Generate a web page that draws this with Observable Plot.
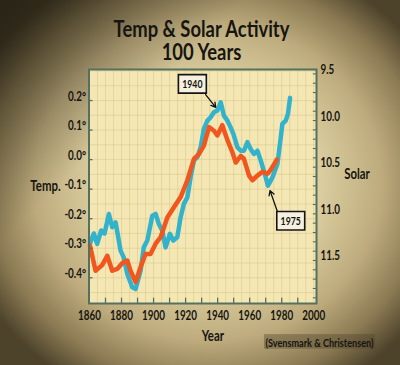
<!DOCTYPE html>
<html><head><meta charset="utf-8">
<script src="https://cdn.jsdelivr.net/npm/d3@7"></script>
<script src="https://cdn.jsdelivr.net/npm/@observablehq/plot@0.6"></script>
<style>
html,body{margin:0;padding:0}
body{width:400px;height:365px;overflow:hidden;
background:
 linear-gradient(135deg, rgba(20,18,10,0.65) 0%, rgba(20,18,10,0) 32%),
 radial-gradient(ellipse 64% 64% at 52% 50%, #efe6c2 0%, #ddd0a2 42%, #bdab7d 68%, #8a7952 86%, #4d432b 100%);
font-family:Lato,"Open Sans",sans-serif;color:#161510}
#title{position:relative;height:62px;font-weight:bold;font-size:23px}
#title div{position:absolute;left:3px;right:0;top:17px;line-height:22.7px;text-align:center;transform:scaleX(0.8);transform-origin:50% 50%}
#chart{position:relative}
</style></head><body>
<div id="title"><div>Temp &amp; Solar Activity<br>100 Years</div></div>
<div id="chart"></div>
<script>
// Temperature anomaly (blue, left axis, °C)
const tempYears = [1860.6,1862.7,1864.8,1867.3,1869.4,1872.1,1874.2,1876.3,1879.4,1881.4,1883.6,1886.7,1888.8,1891.9,1893.9,1896.1,1899.2,1901.3,1903.3,1905.4,1907.5,1910.2,1912.3,1914.8,1916.9,1918.9,1921.1,1923.1,1925.2,1927.3,1929.4,1931.4,1933.6,1935.6,1937.7,1939.8,1941.9,1943.9,1946.1,1948.1,1949.8,1952.3,1954.4,1956.4,1958.6,1960.6,1962.7,1964.8,1966.9,1970.0,1971.4,1974.2,1977.3,1979.4,1980.4,1982.5,1983.9,1985.2];
const tempValues = [-0.28,-0.25,-0.285,-0.24,-0.25,-0.184,-0.229,-0.212,-0.308,-0.331,-0.387,-0.432,-0.438,-0.376,-0.297,-0.274,-0.19,-0.184,-0.218,-0.24,-0.297,-0.251,-0.274,-0.263,-0.195,-0.15,-0.128,-0.06,-0.003,0.008,0.042,0.104,0.132,0.143,0.16,0.166,0.194,0.149,0.132,0.109,0.087,0.042,0.03,0.03,0.059,0.036,0.019,0.03,-0.003,-0.06,-0.088,-0.06,-0.015,0.075,0.121,0.132,0.155,0.209];
// Solar cycle length (red, right axis, years; inverted)
const solarYears = [1860.3,1863.8,1867.9,1871.1,1874.2,1877.3,1880.4,1883.6,1885.6,1888.8,1891.9,1895.0,1898.1,1901.3,1904.4,1908.6,1912.7,1916.9,1921.1,1925.2,1928.3,1931.4,1934.6,1937.7,1939.8,1942.9,1946.1,1949.2,1951.3,1954.4,1956.4,1959.6,1961.7,1964.8,1967.9,1971.1,1973.1,1976.9];
const solarValues = [11.34,11.61,11.55,11.45,11.61,11.59,11.53,11.50,11.61,11.73,11.57,11.43,11.43,11.32,11.25,11.04,10.93,10.82,10.64,10.41,10.36,10.27,10.07,10.11,10.16,10.05,10.21,10.34,10.45,10.38,10.41,10.59,10.64,10.59,10.55,10.57,10.53,10.42];
// Tick labels
const yearTicks = [1860,1880,1900,1920,1940,1960,1980,2000];
const tempTicks = [0.2,0.1,0.0,-0.1,-0.2,-0.3,-0.4];
const solarTicks = [9.5,10.0,10.5,11.0,11.5];
// Annotations
const annotLabels = ["1940","1975"];
const annotYears = [1924.2,1985.6];
const annotTemps = [0.241,-0.222];
const arrowFromYears = [1932.5,1977.5];
const arrowFromTemps = [0.220,-0.179];
const arrowToYears = [1938.8,1972.7];
const arrowToTemps = [0.177,-0.105];
const texts = {yLeft:"Temp.", yRight:"Solar", x:"Year", source:"(Svensmark & Christensen)"};

const xDomain = [1859.7, 2001.7];
const tempDomain = [-0.487, 0.305];
const solarDomain = [11.961, 9.453];
const toTemp = d3.scaleLinear().domain(solarDomain).range(tempDomain);

const tempData = tempYears.map((y,i)=>({year:y, value:tempValues[i]}));
const solarData = solarYears.map((y,i)=>({year:y, value:solarValues[i]}));
const annots = annotLabels.map((l,i)=>({label:l, year:annotYears[i], temp:annotTemps[i],
  x1:arrowFromYears[i], y1:arrowFromTemps[i], x2:arrowToYears[i], y2:arrowToTemps[i]}));

const frameColor = "#56705f";
const gridYears = d3.range(1865, 2001, 5);
const gridTemps = d3.range(-0.45, 0.31, 0.05);
const minorYears = d3.range(1870, 2000, 10);
const solarMinor = d3.range(9.5, 11.96, 0.1);
const fmtT = d => (d < 0 ? "-" : "") + Math.abs(d).toFixed(1) + "°";
const squeeze = 0.76;

const plot = Plot.plot({
  width: 400, height: 303,
  marginLeft: 88.5, marginRight: 84, marginTop: 7, marginBottom: 62,
  x: {domain: xDomain, axis: null},
  y: {domain: tempDomain, axis: null},
  style: {background: "transparent", fontFamily: 'Lato,"Open Sans",sans-serif', color: "#161510", overflow: "visible"},
  marks: [
    Plot.frame({fill: "#f4e7b4"}),
    Plot.ruleX(gridYears, {stroke: "#d8c68a", strokeOpacity: 0.5, strokeWidth: 1}),
    Plot.ruleY(gridTemps, {stroke: "#d8c68a", strokeOpacity: 0.5, strokeWidth: 1}),
    Plot.line(tempData, {x: "year", y: "value", stroke: "#33b2cc", strokeWidth: 4.5, strokeLinejoin: "round"}),
    Plot.line(solarData, {x: "year", y: d => toTemp(d.value), stroke: "#f0561e", strokeWidth: 4.5, strokeLinejoin: "round"}),
    Plot.frame({stroke: frameColor, strokeWidth: 2}),
    Plot.ruleX(minorYears, {y1: tempDomain[0], y2: tempDomain[0] + 0.018, stroke: frameColor, strokeWidth: 1.3}),
    Plot.ruleY(tempTicks, {x1: xDomain[0], x2: xDomain[0] + 2.5, stroke: frameColor, strokeWidth: 1.3}),
    Plot.ruleY(solarMinor.map(toTemp), {x1: xDomain[1] - 2, x2: xDomain[1], stroke: frameColor, strokeWidth: 1.1}),
    Plot.text(yearTicks, {x: d => d, frameAnchor: "bottom", dy: 16, text: d => String(d), fontSize: 13, fontWeight: "bold"}),
    Plot.text(tempTicks, {y: d => d, frameAnchor: "left", textAnchor: "end", dx: -3, text: fmtT, fontSize: 13, fontWeight: "bold"}),
    Plot.text(solarTicks, {y: d => toTemp(d), frameAnchor: "right", textAnchor: "start", dx: 4, text: d => d.toFixed(1), fontSize: 13, fontWeight: "bold"}),
    Plot.text([texts.yLeft], {frameAnchor: "left", textAnchor: "middle", y: -0.107, dx: -43.5, text: d => d, fontSize: 15, fontWeight: "bold"}),
    Plot.text([texts.yRight], {frameAnchor: "right", textAnchor: "middle", y: -0.066, dx: 40.5, text: d => d, fontSize: 15, fontWeight: "bold"}),
    Plot.text([texts.x], {frameAnchor: "bottom", textAnchor: "middle", x: 1937, dy: 37, text: d => d, fontSize: 15, fontWeight: "bold"}),
    Plot.text([texts.source], {frameAnchor: "bottom-right", textAnchor: "middle", dx: 3, dy: 43, text: d => d, fontSize: 12, fontWeight: "bold", ariaDescription: "source"}),
    Plot.arrow(annots, {x1: "x1", y1: "y1", x2: "x2", y2: "y2", stroke: "#111", strokeWidth: 1.3, headLength: 6}),
    Plot.text(annots, {x: "year", y: "temp", text: "label", fontSize: 11.5, fontWeight: "bold", ariaDescription: "annotation"})
  ]
});
document.getElementById("chart").appendChild(plot);

// squeeze all chart texts horizontally around their anchor (the reference's lettering is condensed)
plot.querySelectorAll("text").forEach(t => {
  let tr = t.getAttribute("transform") || "";
  const x = t.getAttribute("x"), y = t.getAttribute("y");
  if (x !== null || y !== null) {
    tr = `translate(${+x || 0},${+y || 0}) ` + tr;
    t.removeAttribute("x"); t.removeAttribute("y");
  }
  t.setAttribute("transform", tr + ` scale(${squeeze},1)`);
});

// boxes behind annotation labels and the source credit
function boxes(sel, pad, fill, stroke, sw) {
  plot.querySelectorAll(sel).forEach(t => {
    const b = t.getBBox();
    const r = document.createElementNS("http://www.w3.org/2000/svg", "rect");
    r.setAttribute("x", b.x - pad[0]); r.setAttribute("y", b.y - pad[1]);
    r.setAttribute("width", b.width + 2 * pad[0]); r.setAttribute("height", b.height + 2 * pad[1]);
    r.setAttribute("fill", fill);
    if (stroke) { r.setAttribute("stroke", stroke); r.setAttribute("stroke-width", sw); r.setAttribute("vector-effect", "non-scaling-stroke"); }
    if (t.getAttribute("transform")) r.setAttribute("transform", t.getAttribute("transform"));
    t.parentNode.insertBefore(r, t);
  });
}
boxes('g[aria-description="annotation"] text', [5, 2.5], "#f5f0df", "#151515", 1.6);
boxes('g[aria-description="source"] text', [2, 0], "rgba(80,68,44,0.4)", null, 0);
</script>
</body></html>
